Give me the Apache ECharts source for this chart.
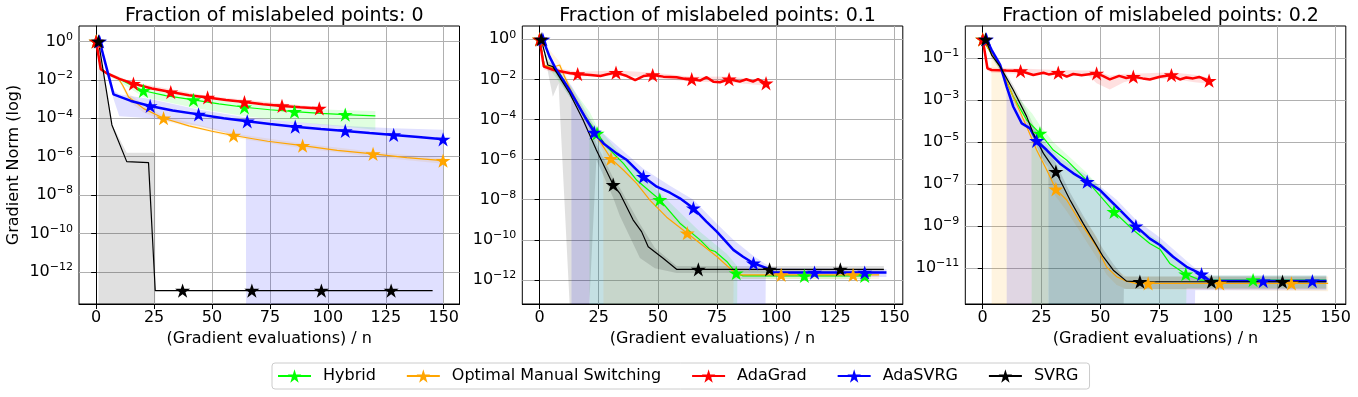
<!DOCTYPE html>
<html>
<head>
<meta charset="utf-8">
<script src="https://cdn.jsdelivr.net/npm/echarts@6/dist/echarts.min.js"></script>
<style>
html, body {margin:0; padding:0; background:#fff;}
#chart {width:1358px; height:397px;}
</style>
</head>
<body>
<div id="chart"></div>
<script>
const names = ['Hybrid', 'Optimal Manual Switching', 'AdaGrad', 'AdaSVRG', 'SVRG']
const colors = ['#00ff00', '#ffa500', '#ff0000', '#0000ff', '#000000']
const titles = ['Fraction of mislabeled points: 0', 'Fraction of mislabeled points: 0.1', 'Fraction of mislabeled points: 0.2']
const xLabel = '(Gradient evaluations) / n'
const yLabel = 'Gradient Norm (log)'
const xTicks = [0, 25, 50, 75, 100, 125, 150]
// y ticks are powers of ten, given as exponents
const yTicks1 = [0, -2, -4, -6, -8, -10, -12]
const yTicks2 = [0, -2, -4, -6, -8, -10, -12]
const yTicks3 = [-1, -3, -5, -7, -9, -11]

// lines: [x, log10(gradient norm)], stars: x of the markers,
// bands: [x, low, high] in log10, low null = down to the bottom
const p1Hybrid = [[0,0],[2,-1.45],[4.6,-1.66],[9.6,-1.93],[14,-2.2],[20.4,-2.57],[30,-2.82],[42,-3.05],[53,-3.25],[64,-3.43],[75,-3.56],[85.6,-3.66],[97,-3.75],[107.5,-3.81],[120.5,-3.88]]
const p1HybridStars = [0, 20.4, 42, 64, 85.6, 107.5]
const p1HybridBand = [[0,-0.04,0.04],[2,-1.52,-1.38],[4.6,-1.72,-1.6],[10,-2.1,-1.85],[20.4,-2.9,-2.45],[42,-3.45,-2.9],[64,-3.9,-3.25],[85.6,-4.2,-3.48],[107.5,-4.45,-3.58],[120.5,-4.6,-3.62]]
const p1Optimal = [[0,0],[2,-1.45],[4.6,-1.66],[9.6,-1.93],[11.5,-2.3],[14,-2.9],[20.5,-3.5],[29.1,-4.0],[40,-4.4],[50,-4.68],[59.3,-4.9],[74,-5.2],[89.1,-5.43],[104,-5.67],[119.5,-5.86],[134,-6.05],[149.7,-6.21]]
const p1OptimalStars = [0, 29.1, 59.3, 89.1, 119.5, 149.7]
const p1OptimalBand = [[0,-0.04,0.04],[2,-1.52,-1.38],[4.6,-1.72,-1.6],[9.6,-2.0,-1.87],[14,-3.1,-2.7],[20.5,-3.7,-3.3],[29.1,-4.13,-3.88],[59.3,-5.02,-4.8],[89.1,-5.56,-5.32],[119.5,-6.0,-5.74],[149.7,-6.37,-6.08]]
const p1AdaGrad = [[0,0],[2,-1.45],[4.6,-1.66],[10,-1.95],[16.1,-2.2],[24,-2.45],[32.2,-2.64],[40,-2.8],[48.1,-2.92],[56,-3.05],[64,-3.16],[72,-3.27],[80.2,-3.36],[88,-3.43],[96.3,-3.49],[97.5,-3.5]]
const p1AdaGradStars = [0, 16.1, 32.2, 48.1, 64, 80.2, 96.3]
const p1AdaGradBand = [[0,-0.04,0.04],[2,-1.52,-1.38],[4.6,-1.72,-1.6],[16.1,-2.27,-2.13],[48.1,-3.0,-2.85],[96.3,-3.57,-3.42],[97.5,-3.58,-3.43]]
const p1AdaSVRG = [[1.5,0],[7.5,-2.76],[15,-3.1],[23.3,-3.36],[33,-3.6],[44.2,-3.8],[55,-4.0],[65.2,-4.16],[75,-4.3],[85.9,-4.44],[97,-4.56],[107.5,-4.66],[118,-4.77],[128.4,-4.87],[139,-4.98],[149.7,-5.1]]
const p1AdaSVRGStars = [1.5, 23.3, 44.2, 65.2, 85.9, 107.5, 128.4, 149.7]
const p1AdaSVRGBand = [[1.5,-0.04,0.04],[7.5,-3.0,-2.55],[10,-3.9,-2.75],[23.3,-4.0,-3.0],[44.2,-4.4,-3.55],[64.6,-5.0,-3.95],[64.7,null,-3.95],[85.9,null,-4.2],[107.5,null,-4.4],[128.4,null,-4.52],[149.7,null,-4.6]]
const p1SVRG = [[1,0],[6.8,-4.35],[13.2,-6.26],[22.6,-6.31],[25.5,-12.97],[37.3,-12.97],[67.2,-12.97],[97.2,-12.97],[127.3,-12.97],[145.2,-12.97]]
const p1SVRGStars = [1, 37.3, 67.2, 97.2, 127.3]
const p1SVRGBand = [[1,null,0],[6.8,null,-4.3],[13.2,null,-5.8],[25.5,null,-5.8]]

const p2Hybrid = [[0,0],[2,-1.3],[5,-1.45],[8,-1.6],[13,-2.6],[19,-3.8],[24.3,-4.69],[28.5,-5.37],[35.5,-6.2],[41.1,-7.03],[50.8,-8.0],[59.3,-9.17],[67.8,-10.0],[72,-10.5],[74.2,-10.58],[79.1,-11.08],[83.1,-11.66],[86,-11.8],[111.9,-11.8],[137.4,-11.8],[140,-11.8]]
const p2HybridStars = [0, 24.3, 50.8, 83.1, 111.9, 137.4]
const p2HybridBand = [[0,-0.05,0.05],[5,-1.6,-1.3],[13,-2.9,-2.3],[21,-4.3,-3.6],[21.1,null,-3.6],[24.3,null,-4.35],[35.5,null,-5.9],[50.8,null,-7.65],[67.8,null,-9.6],[79.1,null,-10.7],[83.5,null,-11.3],[83.6,-11.95,-11.5],[140,-11.95,-11.6]]
const p2Optimal = [[0,0],[2,-1.3],[5,-1.42],[8.5,-1.28],[10,-1.7],[13,-2.5],[19,-3.8],[24.3,-4.87],[30.2,-5.95],[35.5,-6.53],[41.1,-7.2],[46.7,-8.03],[53.7,-8.87],[62.4,-9.67],[67.8,-10.17],[74.9,-10.83],[81.9,-11.58],[84.6,-11.75],[102.1,-11.75],[132.5,-11.75],[143.5,-11.75]]
const p2OptimalStars = [0, 30.2, 62.4, 102.1, 132.5]
const p2OptimalBand = [[0,-0.05,0.05],[8.5,-1.45,-1.12],[13,-2.7,-2.3],[19,-4.0,-3.6],[26.9,-5.6,-5.0],[27,null,-5.0],[41.1,null,-6.95],[62.4,null,-9.4],[74.9,null,-10.6],[81.9,null,-11.35],[82,-11.95,-11.45],[143.5,-11.95,-11.55]]
const p2AdaGrad = [[0,0],[1.8,-1.36],[6,-1.53],[13,-1.69],[16.1,-1.73],[21.5,-1.78],[25.7,-1.83],[28.7,-1.74],[32.3,-1.66],[36.9,-1.83],[40.4,-2.03],[43.9,-1.83],[47.8,-1.78],[52.3,-1.86],[57.9,-1.89],[62.1,-1.99],[64.3,-1.99],[67.8,-2.06],[70.6,-1.89],[73.4,-2.11],[76.2,-2.14],[80.1,-1.99],[84.6,-2.11],[87.4,-1.99],[90.2,-2.11],[92.3,-1.99],[95.7,-2.19]]
const p2AdaGradStars = [0, 16.1, 32.3, 47.8, 64.3, 80.1, 95.7]
const p2AdaGradBand = [[0,-0.05,0.05],[1.8,-1.5,-1.2],[6,-1.65,-1.4],[16.1,-1.85,-1.62],[32.3,-1.8,-1.55],[47.8,-1.92,-1.66],[64.3,-2.12,-1.86],[80.1,-2.14,-1.85],[95.7,-2.32,-2.05]]
const p2AdaSVRG = [[1.4,0],[4.2,-0.86],[7.1,-1.53],[12.7,-2.53],[19.1,-3.86],[23.1,-4.64],[27,-5.19],[32.7,-5.7],[36.9,-6.02],[43.9,-6.85],[49.5,-7.35],[55.1,-7.65],[59.3,-7.93],[65,-8.42],[70.5,-9.09],[74.9,-9.59],[81.9,-10.5],[86,-10.84],[90.4,-11.17],[96,-11.41],[98.9,-11.63],[116.2,-11.63],[137.4,-11.63],[146.6,-11.63]]
const p2AdaSVRGStars = [1.4, 23.1, 43.9, 65, 90.4, 116.2, 137.4]
const p2AdaSVRGBand = [[1.4,-0.05,0.05],[4.2,-1.1,-0.7],[7.1,-1.8,-1.3],[13.4,-3.0,-2.3],[13.5,null,-2.3],[19.1,null,-3.5],[23.1,null,-4.3],[32.7,null,-5.3],[43.9,null,-6.45],[55.1,null,-7.3],[65,null,-8.0],[74.9,null,-9.2],[81.9,null,-10.0],[90.4,null,-10.8],[95.5,null,-11.2],[95.6,-11.85,-11.2],[98.9,-11.85,-11.4],[146.6,-11.85,-11.45]]
const p2SVRG = [[0.7,0],[3.5,-1.28],[5.6,-1.36],[12.7,-2.69],[18.3,-4.0],[24,-5.52],[31.1,-7.25],[33.9,-7.68],[39.5,-9.0],[43.1,-9.59],[45.9,-10.34],[52.2,-10.92],[57.9,-11.47],[67.1,-11.47],[97.2,-11.47],[127.1,-11.47],[145.5,-11.47]]
const p2SVRGStars = [0.7, 31.1, 67.1, 97.2, 127.1]
const p2SVRGBand = [[0.7,-0.05,0.05],[3.5,-1.6,-1.1],[5.6,-2.86,-1.2],[8,-2.2,-1.5],[12.7,null,-2.5],[21,null,-4.1],[24,-6.0,-5.2],[31.1,-7.9,-6.9],[33.9,-8.8,-7.4],[42.4,-10.9,-9.2],[48.7,-11.42,-10.4],[57.9,-11.66,-11.3],[145.5,-11.66,-11.3]]

const p3Hybrid = [[0,-0.11],[3.8,-0.8],[7.4,-1.41],[13,-2.84],[18.7,-3.95],[24.3,-4.59],[30,-5.38],[35.7,-5.86],[44.1,-6.81],[55.8,-8.32],[64,-9.19],[71,-9.83],[75.3,-10.1],[79.5,-10.78],[86.3,-11.29],[92.3,-11.57],[114.9,-11.57],[146,-11.57]]
const p3HybridStars = [0, 24.3, 55.8, 86.3, 114.9]
const p3HybridBand = [[0,-0.16,-0.06],[7.4,-1.6,-1.25],[13,-3.1,-2.6],[20.7,-4.3,-3.6],[20.8,null,-3.6],[24.3,null,-4.2],[30,null,-5.0],[44.1,null,-6.45],[55.8,null,-7.9],[64,null,-8.9],[75.3,null,-9.75],[86.5,null,-11.0],[86.6,-11.95,-11.0],[92.3,-11.95,-11.35],[146,-11.95,-11.35]]
const p3Optimal = [[0,-0.11],[3.8,-0.8],[7.4,-1.41],[13,-2.84],[18.7,-4.27],[22.9,-5.38],[27.2,-6.33],[31.1,-7.25],[35.7,-7.76],[42.7,-9.03],[48.4,-9.98],[52.6,-10.94],[56.9,-11.41],[61.1,-11.62],[65,-11.73],[70.3,-11.73],[100.7,-11.73],[131.2,-11.73],[146.8,-11.73]]
const p3OptimalStars = [0, 31.1, 70.3, 100.7, 131.2]
const p3OptimalBand = [[0,-0.16,-0.06],[3.7,-0.9,-0.65],[3.8,null,-0.65],[7.4,null,-1.25],[13,null,-2.6],[18.7,null,-4.0],[22.9,null,-5.1],[27.9,null,-6.2],[28,-7.0,-6.2],[31.1,-7.6,-6.9],[35.7,-8.3,-7.4],[42.7,-9.5,-8.6],[48.4,-10.5,-9.5],[52.6,-11.3,-10.6],[56.9,-11.8,-11.1],[61.1,-12.0,-11.4],[146.8,-12.1,-11.4]]
const p3AdaGrad = [[0,-0.11],[2,-1.49],[3.8,-1.57],[10,-1.6],[16.1,-1.62],[21.5,-1.81],[25.8,-1.7],[28,-1.78],[32.1,-1.7],[35.7,-1.89],[38.5,-1.76],[42,-1.82],[48.4,-1.73],[51,-1.85],[54,-2.02],[58,-1.85],[61,-1.95],[64,-1.89],[68,-1.97],[71,-2.02],[75.3,-1.89],[80.2,-1.81],[83.8,-2.02],[86.5,-1.93],[89.4,-1.97],[92,-1.9],[96.2,-2.08]]
const p3AdaGradStars = [0, 16.1, 32.1, 48.4, 64, 80.2, 96.2]
const p3AdaGradBand = [[0,-0.16,-0.06],[2,-1.6,-1.38],[3.8,-1.7,-1.45],[16.1,-1.75,-1.5],[32.1,-1.83,-1.57],[45,-1.85,-1.6],[48.4,-2.2,-1.6],[54,-2.5,-1.85],[60,-2.15,-1.75],[64,-2.05,-1.75],[80.2,-1.97,-1.68],[90,-2.15,-1.8],[96.2,-2.22,-1.94]]
const p3AdaSVRG = [[1.6,-0.11],[3.8,-0.62],[7.4,-1.33],[10.2,-2.37],[13,-3.32],[16.6,-4.11],[20.1,-4.35],[22.9,-4.94],[27.2,-5.38],[32.8,-6.02],[38.5,-6.49],[44.4,-6.89],[49.8,-7.29],[56.9,-8.08],[65.1,-9.0],[71,-9.6],[75.3,-9.9],[80.9,-10.46],[86.6,-10.94],[93,-11.29],[95.8,-11.54],[98,-11.62],[119.2,-11.62],[140.1,-11.62],[146.1,-11.62]]
const p3AdaSVRGStars = [1.6, 22.9, 44.4, 65.1, 93, 119.2, 140.1]
const p3AdaSVRGBand = [[1.6,-0.16,-0.06],[3.8,-0.8,-0.5],[7.4,-1.55,-1.15],[10.1,-2.6,-2.1],[10.2,null,-2.1],[16.6,null,-3.8],[20.1,null,-4.1],[27.2,null,-5.1],[32.8,null,-5.75],[44.4,null,-6.6],[56.9,null,-7.75],[65.1,null,-8.7],[75.3,null,-9.55],[86.6,null,-10.65],[90.2,null,-11.0],[90.3,-12.05,-11.0],[98,-12.05,-11.35],[146.1,-12.05,-11.35]]
const p3SVRG = [[1.2,-0.11],[3.8,-0.86],[7.4,-1.41],[13,-2.52],[18.7,-3.79],[21.5,-4.59],[25.8,-5.54],[31.1,-6.41],[37.1,-7.76],[42.7,-8.87],[47,-9.67],[51.2,-10.46],[55.5,-11.1],[61.1,-11.62],[66.8,-11.65],[97.2,-11.65],[127.4,-11.65],[146,-11.65]]
const p3SVRGStars = [1.2, 31.1, 66.8, 97.2, 127.4]
const p3SVRGBand = [[1.2,-0.16,-0.06],[3.8,-1.0,-0.75],[7.4,-1.6,-1.25],[13,-2.75,-2.3],[18.7,-4.1,-3.5],[25.8,-5.9,-5.2],[27.9,-6.2,-5.5],[28,null,-5.5],[31.1,null,-6.0],[37.1,null,-7.4],[42.7,null,-8.5],[47,null,-9.3],[51.2,null,-10.1],[55.5,null,-10.8],[59.9,null,-11.4],[60,-12.0,-11.4],[146,-12.0,-11.4]]

const panels = [
    {lines: [p1Hybrid, p1Optimal, p1AdaGrad, p1AdaSVRG, p1SVRG],
     stars: [p1HybridStars, p1OptimalStars, p1AdaGradStars, p1AdaSVRGStars, p1SVRGStars],
     bands: [p1HybridBand, p1OptimalBand, p1AdaGradBand, p1AdaSVRGBand, p1SVRGBand], yTicks: yTicks1},
    {lines: [p2Hybrid, p2Optimal, p2AdaGrad, p2AdaSVRG, p2SVRG],
     stars: [p2HybridStars, p2OptimalStars, p2AdaGradStars, p2AdaSVRGStars, p2SVRGStars],
     bands: [p2HybridBand, p2OptimalBand, p2AdaGradBand, p2AdaSVRGBand, p2SVRGBand], yTicks: yTicks2},
    {lines: [p3Hybrid, p3Optimal, p3AdaGrad, p3AdaSVRG, p3SVRG],
     stars: [p3HybridStars, p3OptimalStars, p3AdaGradStars, p3AdaSVRGStars, p3SVRGStars],
     bands: [p3HybridBand, p3OptimalBand, p3AdaGradBand, p3AdaSVRGBand, p3SVRGBand], yTicks: yTicks3}
]

// layout
const font = 'DejaVu Sans'
const gridLeft = [79, 522.3, 965.3]
const gridWidth = 380.5
const gridTop = 26, gridHeight = 278
const xRange = [[-7.4, 156.8], [-7.3, 153.5], [-7.4, 154.3]]
const yRange = [[-13.67, 0.8], [-13.2, 0.665], [-12.71, 0.524]]
const widths = [1.2, 1.2, 2.5, 2.5, 1.2]
const star = 'path://M0,-1L0.2245,-0.309L0.9511,-0.309L0.3633,0.118L0.5878,0.809L0,0.382L-0.5878,0.809L-0.3633,0.118L-0.9511,-0.309L-0.2245,-0.309Z'

function pow10(e){
    return Math.pow(10, e)
}

function tickLabel(v){
    const e = Math.round(Math.log10(v))
    return '{b|10}{s|' + (e < 0 ? '\u2212' + (-e) : e) + '}'
}

function lineSeries(i, gi, pts, stars){
    return {
        type: 'line', name: names[i], xAxisIndex: gi, yAxisIndex: gi,
        data: pts.map(p => {
            const item = {value: [p[0], pow10(p[1])]}
            if (stars.indexOf(p[0]) == -1) item.symbol = 'none'
            return item
        }),
        symbol: star, symbolSize: 15, symbolKeepAspect: true,
        showSymbol: true, showAllSymbol: true,
        lineStyle: {color: colors[i], width: widths[i]},
        itemStyle: {color: colors[i]},
        z: 3, animation: false
    }
}

function bandSeries(i, gi, band){
    const fill = echarts.color.modifyAlpha(colors[i], 0.12)
    return {
        type: 'custom', xAxisIndex: gi, yAxisIndex: gi, silent: true, z: 1,
        clip: true, animation: false,
        data: [[band[0][0], pow10(band[0][2])]],
        renderItem: function(params, api){
            const bottom = params.coordSys.y + params.coordSys.height
            const top = [], low = []
            band.forEach(b => {
                const hi = api.coord([b[0], pow10(b[2])])
                top.push(hi)
                if (b[1] === null) low.push([hi[0], bottom])
                else low.push(api.coord([b[0], pow10(b[1])]))
            })
            return {type: 'polygon', shape: {points: top.concat(low.reverse())}, style: {fill: fill}}
        }
    }
}

const grids = [], xAxes = [], yAxes = [], series = [], titleList = []
panels.forEach((p, gi) => {
    grids.push({left: gridLeft[gi], top: gridTop, width: gridWidth, height: gridHeight,
        show: true, borderColor: '#000', borderWidth: 1, backgroundColor: 'transparent', outerBoundsMode: 'none'})
    titleList.push({text: titles[gi], left: gridLeft[gi] + gridWidth / 2, top: 2, textAlign: 'center',
        textStyle: {fontSize: 19, fontWeight: 'normal', color: '#000', fontFamily: font}})
    xAxes.push({
        type: 'value', gridIndex: gi, min: xRange[gi][0], max: xRange[gi][1],
        name: xLabel, nameLocation: 'middle', nameGap: 19,
        nameTextStyle: {fontSize: 16, color: '#000', fontFamily: font},
        axisLine: {show: true, onZero: false, lineStyle: {color: '#000', width: 1}},
        axisTick: {show: true, length: 5, lineStyle: {color: '#000'}, customValues: xTicks},
        axisLabel: {color: '#000', fontSize: 16, fontFamily: font, margin: 6, customValues: xTicks},
        splitLine: {show: true, lineStyle: {color: '#b0b0b0', width: 1}}
    })
    const yt = p.yTicks.map(pow10)
    yAxes.push({
        type: 'log', logBase: 10, gridIndex: gi, min: pow10(yRange[gi][0]), max: pow10(yRange[gi][1]),
        name: gi == 0 ? yLabel : '', nameLocation: 'middle', nameGap: 57, nameRotate: 90,
        nameTextStyle: {fontSize: 16, color: '#000', fontFamily: font},
        axisLine: {show: true, lineStyle: {color: '#000', width: 1}},
        axisTick: {show: true, length: 5, lineStyle: {color: '#000'}, customValues: yt},
        axisLabel: {color: '#000', margin: 6, customValues: yt, formatter: tickLabel,
            rich: {
                b: {fontSize: 16, fontFamily: font, color: '#000', lineHeight: 20},
                s: {fontSize: 11, fontFamily: font, color: '#000', verticalAlign: 'top', lineHeight: 11}
            }},
        splitLine: {show: true, lineStyle: {color: '#b0b0b0', width: 1}}
    })
    p.bands.forEach((b, i) => series.push(bandSeries(i, gi, b)))
    p.lines.forEach((l, i) => series.push(lineSeries(i, gi, l, p.stars[i])))
})

const chart = echarts.init(document.getElementById('chart'), null, {renderer: 'canvas'})
chart.setOption({
    backgroundColor: '#fff',
    animation: false,
    title: titleList,
    grid: grids,
    xAxis: xAxes,
    yAxis: yAxes,
    legend: {
        data: names, left: 272, top: 363, orient: 'horizontal',
        itemWidth: 33, itemHeight: 17, itemGap: 30,
        padding: [5, 11, 5, 5],
        borderColor: '#cccccc', borderWidth: 1, borderRadius: 3, backgroundColor: '#fff',
        textStyle: {fontSize: 16, color: '#000', fontFamily: font, padding: [0, 0, 0, 7]},
        selectedMode: false
    },
    series: series
})
</script>
</body>
</html>
